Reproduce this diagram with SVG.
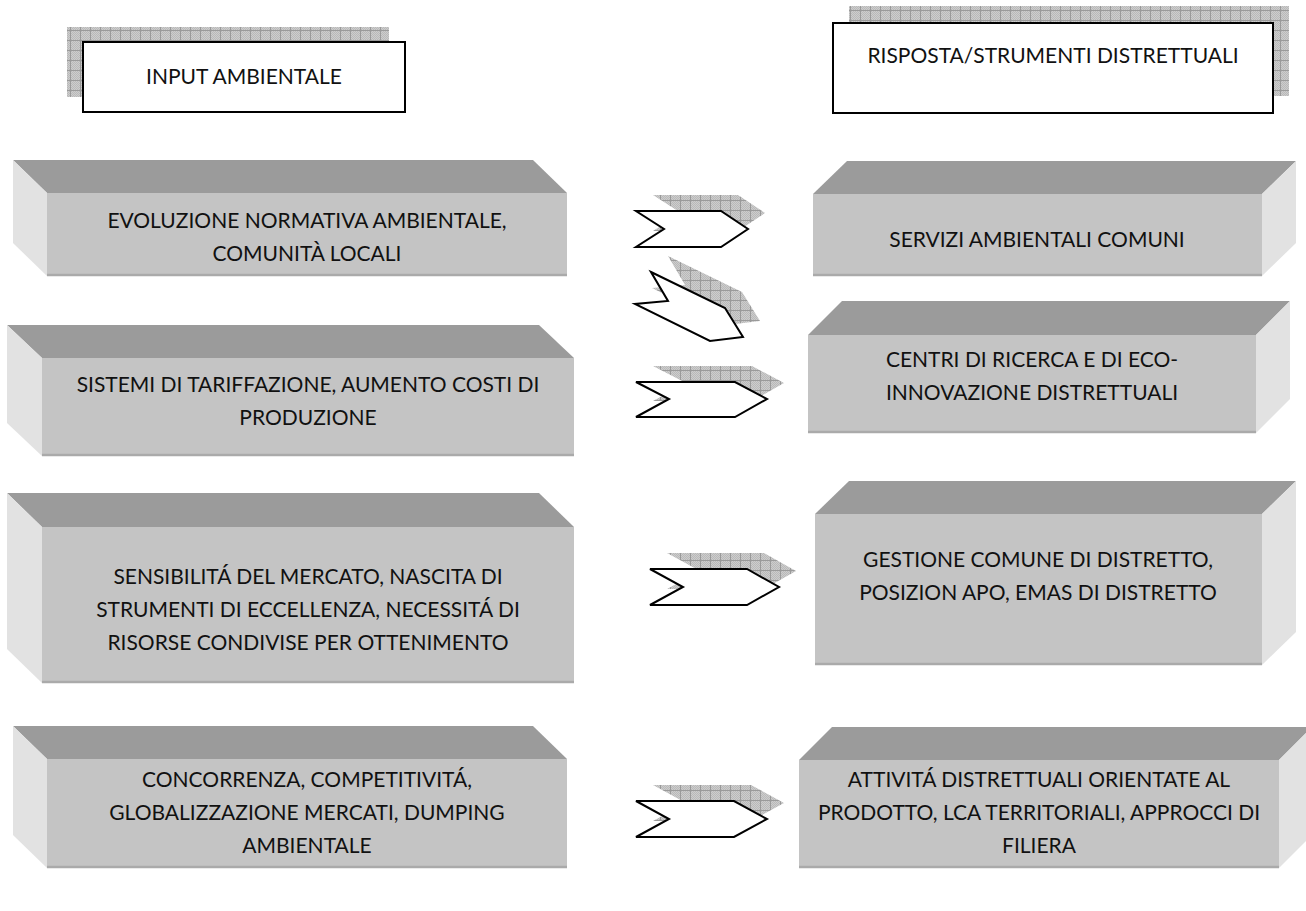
<svg xmlns="http://www.w3.org/2000/svg" width="1306" height="911" viewBox="0 0 1306 911">
<style>
.top{fill:#9b9b9b}
.front{fill:#c4c4c4}
.side{fill:#e2e2e2}
.edge{stroke:#aaaaaa;stroke-width:2.5;fill:none}
.hdr{fill:#ffffff;stroke:#000000;stroke-width:2}
.shadow{fill:url(#hatch)}
.arrow{fill:#ffffff;stroke:#000000;stroke-width:2;stroke-linejoin:miter}
.lbl{font-family:Lato,"Open Sans","Liberation Sans",sans-serif;font-size:21px;fill:#111111;text-anchor:middle}
</style>
<defs>
<pattern id="fine" width="2" height="2" patternUnits="userSpaceOnUse">
<rect width="2" height="2" fill="#cdcdcd"/>
<rect width="1" height="1" fill="#b9b9b9"/>
<rect x="1" y="1" width="1" height="1" fill="#b9b9b9"/>
</pattern>
<pattern id="hatch" width="10" height="10" patternUnits="userSpaceOnUse">
<rect width="10" height="10" fill="url(#fine)"/>
<rect width="10" height="1" fill="#9a9a9a"/>
<rect width="1" height="10" fill="#9a9a9a"/>
</pattern>
</defs>

<g id="header-input">
<rect class="shadow" x="67" y="27" width="322" height="70"/>
<rect class="hdr" x="83" y="42" width="322" height="70"/>
<text class="lbl" x="244" y="84">INPUT AMBIENTALE</text>
</g>

<g id="header-risposta">
<rect class="shadow" x="849" y="6" width="440" height="90"/>
<rect class="hdr" x="833" y="23" width="440" height="90"/>
<text class="lbl" x="1053" y="63">RISPOSTA/STRUMENTI DISTRETTUALI</text>
</g>

<g id="input-1">
<polygon class="top" points="13,160 533,160 567,193 47,193"/>
<polygon class="side" points="13,160 47,193 47,276 13,243"/>
<rect class="front" x="47" y="193" width="520" height="83"/>
<line class="edge" x1="47" y1="275" x2="567" y2="275"/>
<text class="lbl" x="307" y="228">EVOLUZIONE NORMATIVA AMBIENTALE,</text>
<text class="lbl" x="307" y="261">COMUNITÀ LOCALI</text>
</g>

<g id="input-2">
<polygon class="top" points="7,325 539,325 574,358 42,358"/>
<polygon class="side" points="7,325 42,358 42,456 7,423"/>
<rect class="front" x="42" y="358" width="532" height="98"/>
<line class="edge" x1="42" y1="455" x2="574" y2="455"/>
<text class="lbl" x="308" y="392">SISTEMI DI TARIFFAZIONE, AUMENTO COSTI DI</text>
<text class="lbl" x="308" y="425">PRODUZIONE</text>
</g>

<g id="input-3">
<polygon class="top" points="7,493 539,493 574,527 42,527"/>
<polygon class="side" points="7,493 42,527 42,683 7,649"/>
<rect class="front" x="42" y="527" width="532" height="156"/>
<line class="edge" x1="42" y1="682" x2="574" y2="682"/>
<text class="lbl" x="308" y="584">SENSIBILITÁ DEL MERCATO, NASCITA DI</text>
<text class="lbl" x="308" y="617">STRUMENTI DI ECCELLENZA, NECESSITÁ DI</text>
<text class="lbl" x="308" y="650">RISORSE CONDIVISE PER OTTENIMENTO</text>
</g>

<g id="input-4">
<polygon class="top" points="13,726 533,726 567,759 47,759"/>
<polygon class="side" points="13,726 47,759 47,868 13,835"/>
<rect class="front" x="47" y="759" width="520" height="109"/>
<line class="edge" x1="47" y1="867" x2="567" y2="867"/>
<text class="lbl" x="307" y="787">CONCORRENZA, COMPETITIVITÁ,</text>
<text class="lbl" x="307" y="820">GLOBALIZZAZIONE MERCATI, DUMPING</text>
<text class="lbl" x="307" y="853">AMBIENTALE</text>
</g>

<g id="risposta-1">
<polygon class="top" points="847,161 1296,161 1262,194 813,194"/>
<polygon class="side" points="1262,194 1296,161 1296,243 1262,276"/>
<rect class="front" x="813" y="194" width="449" height="82"/>
<line class="edge" x1="813" y1="275" x2="1262" y2="275"/>
<text class="lbl" x="1037" y="247">SERVIZI AMBIENTALI COMUNI</text>
</g>

<g id="risposta-2">
<polygon class="top" points="842,301 1290,301 1256,335 808,335"/>
<polygon class="side" points="1256,335 1290,301 1290,399 1256,433"/>
<rect class="front" x="808" y="335" width="448" height="98"/>
<line class="edge" x1="808" y1="432" x2="1256" y2="432"/>
<text class="lbl" x="1032" y="367">CENTRI DI RICERCA E DI ECO-</text>
<text class="lbl" x="1032" y="400">INNOVAZIONE DISTRETTUALI</text>
</g>

<g id="risposta-3">
<polygon class="top" points="849,481 1296,481 1262,514 815,514"/>
<polygon class="side" points="1262,514 1296,481 1296,632 1262,665"/>
<rect class="front" x="815" y="514" width="447" height="151"/>
<line class="edge" x1="815" y1="664" x2="1262" y2="664"/>
<text class="lbl" x="1038" y="567">GESTIONE COMUNE DI DISTRETTO,</text>
<text class="lbl" x="1038" y="600">POSIZION APO, EMAS DI DISTRETTO</text>
</g>

<g id="risposta-4">
<polygon class="top" points="832,727 1312,727 1279,760 799,760"/>
<polygon class="side" points="1279,760 1312,727 1312,835 1279,868"/>
<rect class="front" x="799" y="760" width="480" height="108"/>
<line class="edge" x1="799" y1="867" x2="1279" y2="867"/>
<text class="lbl" x="1039" y="787">ATTIVITÁ DISTRETTUALI ORIENTATE AL</text>
<text class="lbl" x="1039" y="820">PRODOTTO, LCA TERRITORIALI, APPROCCI DI</text>
<text class="lbl" x="1039" y="853">FILIERA</text>
</g>

<g id="connectors">
<polygon class="shadow" points="653,195 738,195 765,213 738,231 653,231 681,213"/>
<polygon class="arrow" points="636,211 721,211 748,229 721,247 636,247 664,229"/>
<polygon class="shadow" points="668,256 742,292 760,321 727,325 652,288 685,285"/>
<polygon class="arrow" points="651,272 725,308 743,337 710,341 635,304 668,301"/>
<polygon class="shadow" points="653,366 752,366 784,383 752,401 653,401 686,383"/>
<polygon class="arrow" points="636,382 735,382 767,399 735,417 636,417 669,399"/>
<polygon class="shadow" points="667,553 764,553 796,571 764,589 667,589 700,571"/>
<polygon class="arrow" points="650,569 747,569 779,587 747,605 650,605 683,587"/>
<polygon class="shadow" points="653,785 751,785 784,803 751,821 653,821 686,803"/>
<polygon class="arrow" points="636,801 734,801 767,819 734,837 636,837 669,819"/>
</g>
</svg>
